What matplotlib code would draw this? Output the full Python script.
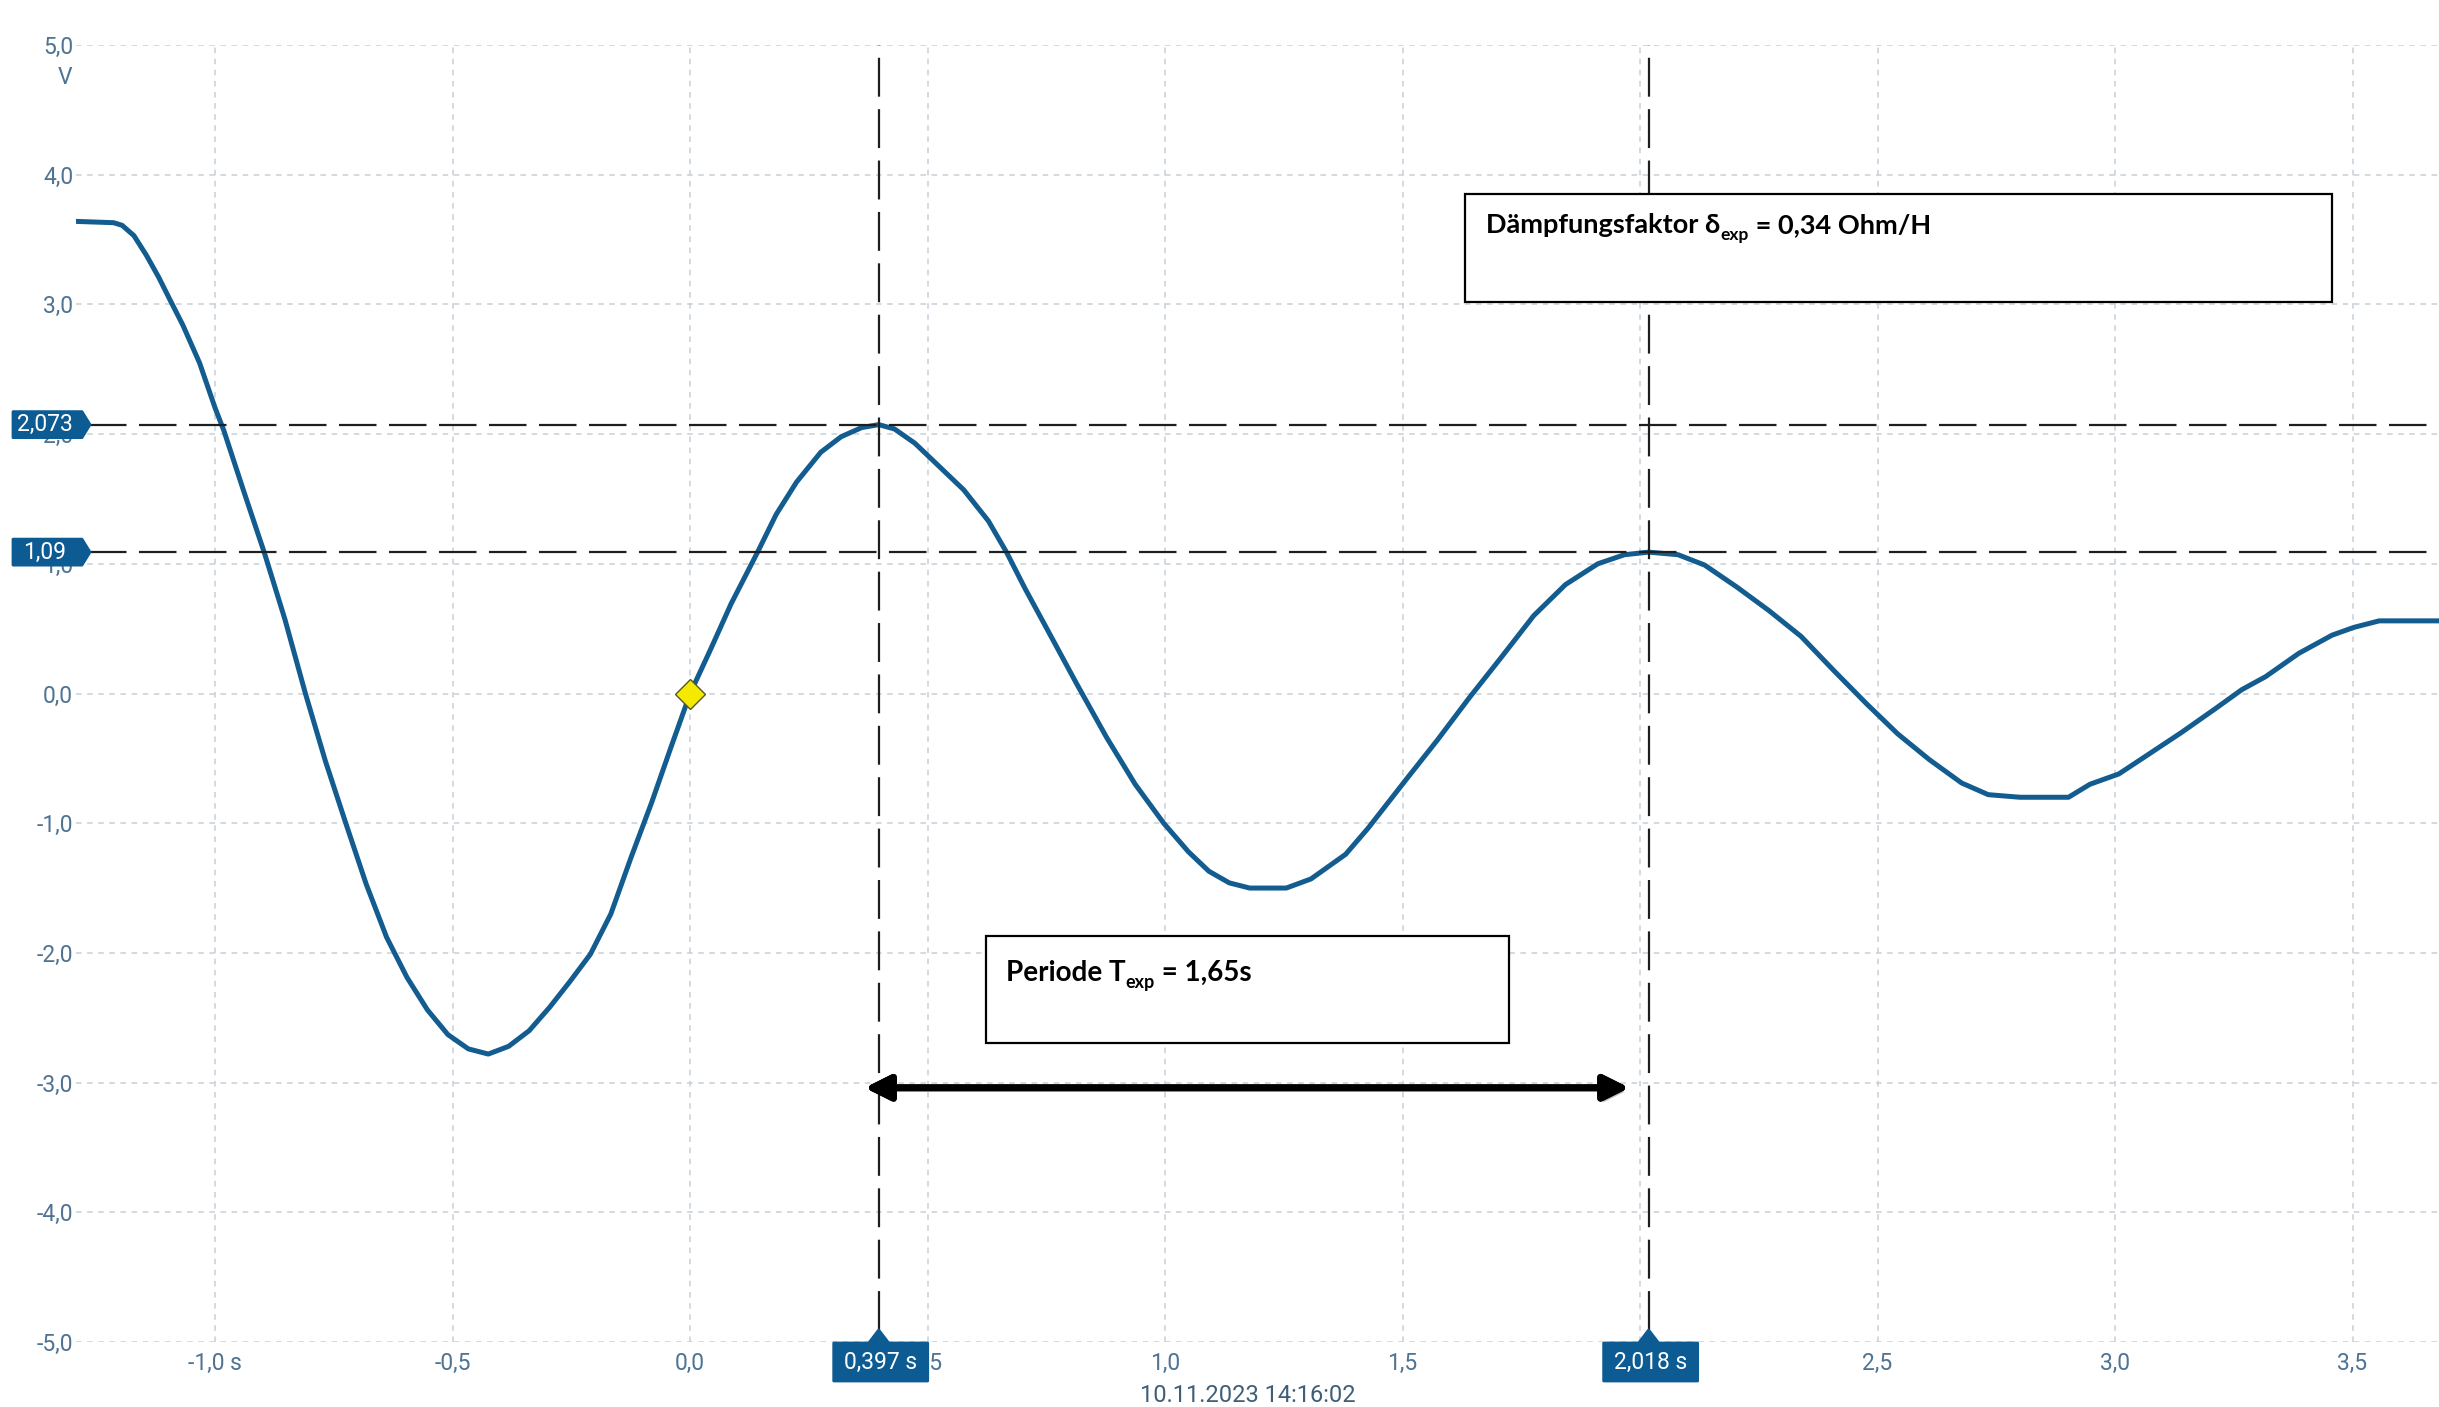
import matplotlib
matplotlib.use('Agg')
import matplotlib.pyplot as plt
import matplotlib.patches as mpatches
import matplotlib.patheffects as pe
from matplotlib.transforms import IdentityTransform

plt.rcParams['lines.scale_dashes'] = False
plt.rcParams['font.family'] = ['Roboto', 'DejaVu Sans']

W, H, DPI = 2439, 1407, 100

# ---- data ----
time_s = [-1.293, -1.214, -1.196, -1.171, -1.145, -1.119, -1.093, -1.068, -1.033, -1.000,
          -0.982, -0.939, -0.896,
          -0.853, -0.810, -0.768, -0.725, -0.682, -0.639, -0.596, -0.553, -0.510, -0.467,
          -0.425, -0.382, -0.339, -0.296, -0.253, -0.210, -0.167, -0.124, -0.081, -0.039,
          0.000, 0.043, 0.086, 0.142, 0.181, 0.224, 0.275, 0.318, 0.361, 0.397,
          0.430, 0.473, 0.516, 0.576, 0.628, 0.666, 0.705, 0.748, 0.813, 0.877,
          0.937, 0.997, 1.049, 1.092, 1.135, 1.178, 1.255, 1.307, 1.380, 1.427,
          1.506, 1.573, 1.641, 1.708, 1.776, 1.843, 1.911, 1.967, 2.018, 2.080,
          2.136, 2.204, 2.271, 2.339, 2.407, 2.477, 2.542, 2.609, 2.677, 2.733,
          2.800, 2.902, 2.947, 3.008, 3.070, 3.140, 3.210, 3.267, 3.317, 3.387,
          3.457, 3.503, 3.556, 3.682]
voltage_v = [3.64, 3.63, 3.61, 3.53, 3.38, 3.21, 3.02, 2.84, 2.55, 2.20,
             2.03, 1.55, 1.08,
             0.57, 0.00, -0.52, -1.00, -1.47, -1.88, -2.19, -2.44, -2.63, -2.74,
             -2.78, -2.72, -2.60, -2.42, -2.22, -2.01, -1.70, -1.26, -0.84, -0.40,
             0.00, 0.34, 0.69, 1.09, 1.38, 1.63, 1.86, 1.98, 2.05, 2.073,
             2.04, 1.93, 1.78, 1.57, 1.33, 1.09, 0.81, 0.52, 0.08, -0.34,
             -0.70, -1.00, -1.22, -1.37, -1.46, -1.50, -1.50, -1.43, -1.24, -1.04,
             -0.67, -0.36, -0.03, 0.28, 0.60, 0.84, 1.00, 1.07, 1.09, 1.07,
             0.99, 0.82, 0.64, 0.44, 0.18, -0.08, -0.31, -0.51, -0.69, -0.78,
             -0.80, -0.80, -0.70, -0.62, -0.47, -0.30, -0.12, 0.03, 0.13, 0.31,
             0.45, 0.51, 0.56, 0.56]

x_ticks = [-1.0, -0.5, 0.0, 0.5, 1.0, 1.5, 2.0, 2.5, 3.0, 3.5]
x_tick_labels = ['-1,0 s', '-0,5', '0,0', '0,5', '1,0', '1,5', '2,0', '2,5', '3,0', '3,5']
y_ticks = [5, 4, 3, 2, 1, 0, -1, -2, -3, -4, -5]
y_tick_labels = ['5,0', '4,0', '3,0', '2,0', '1,0', '0,0', '-1,0', '-2,0', '-3,0', '-4,0', '-5,0']

cursor_t = [0.397, 2.018]
cursor_t_labels = ['0,397 s', '2,018 s']
cursor_v = [2.073, 1.09]
cursor_v_labels = ['2,073', '1,09']
trigger_t, trigger_v = [0.0], [0.0]
period_from, period_to, period_level = 0.362, 1.983, -3.04
timestamp = '10.11.2023 14:16:02'
unit_label = 'V'

# ---- styles ----
LINE_C = '#135c8f'
LABEL_BG = '#0d5b93'
TICK_C = '#4f7393'
GRID_C = '#c7cfd7'

fig = plt.figure(figsize=(W / DPI, H / DPI), dpi=DPI)
fig.patch.set_facecolor('white')
ax = fig.add_axes([76 / W, 1 - 1342 / H, 1 - 76 / W, (1342 - 45) / H])
ax.set_xlim(-1.293, 3.682)
ax.set_ylim(-5, 5)
for s in ax.spines.values():
    s.set_visible(False)
ax.set_xticks(x_ticks, x_tick_labels)
ax.set_yticks(y_ticks, y_tick_labels)
ax.tick_params(length=0, labelsize=16.5, labelcolor=TICK_C)
ax.tick_params(axis='x', pad=7)
ax.tick_params(axis='y', pad=2)
ax.grid(True, color=GRID_C, linestyle=(0, (4, 4)), linewidth=1.1)
ax.set_axisbelow(True)

ax.plot(time_s, voltage_v, color=LINE_C, lw=3.6, zorder=3, solid_joinstyle='round')

ax.hlines(cursor_v, -1.265, 3.682, colors='#1e1e1e', linestyles=[(0, (27, 9))], lw=1.6, zorder=4)
ax.vlines(cursor_t, -4.91, 5.0, colors='#1e1e1e', linestyles=[(0, (28, 9))], lw=1.6, zorder=4)

ax.plot(trigger_t, trigger_v, marker='D', ms=15, mfc='#f6e900', mec='#55552a', mew=1.0,
        ls='none', zorder=6)

arrow = mpatches.FancyArrowPatch((period_from, period_level), (period_to, period_level),
                                 arrowstyle='<|-|>,head_length=1.5,head_width=0.75',
                                 mutation_scale=10, lw=5, color='black', zorder=7,
                                 path_effects=[pe.withSimplePatchShadow(offset=(2, -3), alpha=0.25),
                                               pe.Normal()])
ax.add_patch(arrow)

fig.text(65, H - 78, unit_label, transform=IdentityTransform(), ha='center', va='center',
         fontsize=16.5, color=TICK_C)
fig.text(1248, H - 1395, timestamp, transform=IdentityTransform(), ha='center', va='center',
         fontsize=17, color='#3f5f78')

# ---- cursor labels ----
for v, lab in zip(cursor_v, cursor_v_labels):
    yp = ax.transData.transform((0, v))[1]
    poly = mpatches.Polygon([(13, yp - 13), (82, yp - 13), (90, yp), (82, yp + 13), (13, yp + 13)],
                            closed=True, fc=LABEL_BG, ec=LABEL_BG, lw=2, joinstyle='round',
                            transform=IdentityTransform(), zorder=10)
    fig.add_artist(poly)
    fig.text(45, yp, lab, transform=IdentityTransform(), ha='center', va='center',
             fontsize=16.5, color='white', zorder=11)

for t, lab in zip(cursor_t, cursor_t_labels):
    xp = ax.transData.transform((t, 0))[0]
    y0, y1 = H - 1381, H - 1343
    poly = mpatches.Polygon([(xp - 45, y0), (xp + 49, y0), (xp + 49, y1), (xp + 10, y1),
                             (xp, y1 + 13), (xp - 10, y1), (xp - 45, y1)],
                            closed=True, fc=LABEL_BG, ec=LABEL_BG, lw=2, joinstyle='round',
                            transform=IdentityTransform(), zorder=10)
    fig.add_artist(poly)
    fig.text(xp + 2, (y0 + y1) / 2, lab, transform=IdentityTransform(), ha='center', va='center',
             fontsize=16.5, color='white', zorder=11)

# ---- annotation boxes ----
renderer = fig.canvas.get_renderer()
ANN_FONT = ['Lato', 'DejaVu Sans']


def chain_text(x, y, parts):
    for s, size, dy in parts:
        t = fig.text(x, y + dy, s, transform=IdentityTransform(), ha='left', va='baseline',
                     fontsize=size, fontweight='bold', family=ANN_FONT, color='black', zorder=12)
        x = t.get_window_extent(renderer).x1


def box(x0, x1, ytop, ybot):
    r = mpatches.Rectangle((x0, H - ybot), x1 - x0, ybot - ytop, fc='white', ec='black', lw=1.6,
                           transform=IdentityTransform(), zorder=11)
    fig.add_artist(r)


box(1465, 2332, 194, 302)
chain_text(1486, H - 233, [('Dämpfungsfaktor δ', 19.5, 0), ('exp', 12.5, -7), (' = 0,34 Ohm/H', 19.5, 0)])

box(986, 1509, 936, 1043)
chain_text(1006, H - 981, [('Periode T', 20, 0), ('exp', 13, -7), (' = 1,65s', 20, 0)])

fig.savefig('out.png', dpi=DPI, facecolor='white')
